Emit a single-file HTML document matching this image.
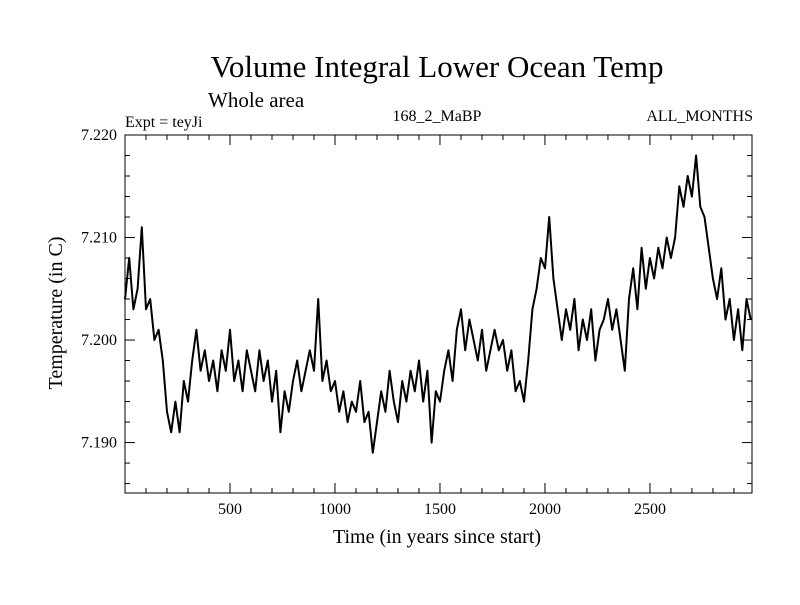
<!DOCTYPE html>
<html><head><meta charset="utf-8"><style>
body{margin:0;background:#fff;width:800px;height:600px;overflow:hidden}
text{font-family:"Liberation Serif",serif;fill:#000}
</style></head><body>
<svg id="chart" width="800" height="600">
<text x="437" y="77" font-size="31" text-anchor="middle">Volume Integral Lower Ocean Temp</text>
<text x="208" y="107" font-size="21">Whole area</text>
<text x="125" y="127" font-size="16">Expt = teyJi</text>
<text x="437" y="121" font-size="16" text-anchor="middle">168_2_MaBP</text>
<text x="753" y="121" font-size="16" text-anchor="end">ALL_MONTHS</text>
<text x="437" y="543" font-size="20" text-anchor="middle">Time (in years since start)</text>
<text transform="translate(62,313) rotate(-90)" font-size="20" text-anchor="middle">Temperature (in C)</text>
<g id="axes"></g>
<g id="series"></g>
<rect x="125" y="135" width="627" height="358" fill="none" stroke="#000" stroke-width="1"/>
</svg>
<script>
const xTicks=[500,1000,1500,2000,2500];
const yTicks=[7.190,7.200,7.210,7.220];
const yTickLabels=["7.190","7.200","7.210","7.220"];
const years=[];for(let i=0;i<150;i++)years.push(i*20);
const temps=[
7.204,7.208,7.203,7.205,7.211,7.203,7.204,7.200,7.201,7.198,
7.193,7.191,7.194,7.191,7.196,7.194,7.198,7.201,7.197,7.199,
7.196,7.198,7.195,7.199,7.197,7.201,7.196,7.198,7.195,7.199,
7.197,7.195,7.199,7.196,7.198,7.194,7.197,7.191,7.195,7.193,
7.196,7.198,7.195,7.197,7.199,7.197,7.204,7.196,7.198,7.195,
7.196,7.193,7.195,7.192,7.194,7.193,7.196,7.192,7.193,7.189,
7.192,7.195,7.193,7.197,7.194,7.192,7.196,7.194,7.197,7.195,
7.198,7.194,7.197,7.190,7.195,7.194,7.197,7.199,7.196,7.201,
7.203,7.199,7.202,7.200,7.198,7.201,7.197,7.199,7.201,7.199,
7.200,7.197,7.199,7.195,7.196,7.194,7.198,7.203,7.205,7.208,
7.207,7.212,7.206,7.203,7.200,7.203,7.201,7.204,7.199,7.202,
7.200,7.203,7.198,7.201,7.202,7.204,7.201,7.203,7.200,7.197,
7.204,7.207,7.203,7.209,7.205,7.208,7.206,7.209,7.207,7.210,
7.208,7.210,7.215,7.213,7.216,7.214,7.218,7.213,7.212,7.209,
7.206,7.204,7.207,7.202,7.204,7.200,7.203,7.199,7.204,7.202];
const X0=125,X1=752,Y0=135,Y1=493,xMin=0,xMax=2986,yMin=7.18508,yMax=7.220;
const sx=v=>X0+(v-xMin)/(xMax-xMin)*(X1-X0);
const sy=v=>Y1-(v-yMin)/(yMax-yMin)*(Y1-Y0);
const NS="http://www.w3.org/2000/svg";
const axes=document.getElementById('axes');
function line(x1,y1,x2,y2){const l=document.createElementNS(NS,'line');l.setAttribute('x1',x1);l.setAttribute('y1',y1);l.setAttribute('x2',x2);l.setAttribute('y2',y2);l.setAttribute('stroke','#000');axes.appendChild(l);return l;}
for(let t=100;t<xMax;t+=100){const big=t%500===0,len=big?10:5,x=sx(t);
const a=line(x,Y1,x,Y1-len);
const b=line(x,Y0,x,Y0+len);}
for(let k=0;k<=17;k++){const v=7.186+k*0.002;const big=Math.abs((v*1000)%10)<0.01||Math.abs((v*1000)%10-10)<0.01;const len=big?10:5,y=sy(v);
const a=line(X0,y,X0+len,y);
const b=line(X1,y,X1-len,y);}
xTicks.forEach(t=>{const e=document.createElementNS(NS,'text');e.setAttribute('x',sx(t));e.setAttribute('y',Y1+21);e.setAttribute('font-size','16');e.setAttribute('text-anchor','middle');e.textContent=t;


axes.appendChild(e);});
yTicks.forEach((t,i)=>{const e=document.createElementNS(NS,'text');e.setAttribute('x',X0-8);e.setAttribute('y',sy(t)+5);e.setAttribute('font-size','16');e.setAttribute('text-anchor','end');e.textContent=yTickLabels[i];


axes.appendChild(e);});
const p=document.createElementNS(NS,'polyline');
p.setAttribute('points',years.map((y,i)=>sx(y).toFixed(1)+','+sy(temps[i]).toFixed(1)).join(' '));
p.setAttribute('fill','none');p.setAttribute('stroke','#000');p.setAttribute('stroke-width','2');p.setAttribute('stroke-linejoin','round');


document.getElementById('series').appendChild(p);
</script>
</body></html>
